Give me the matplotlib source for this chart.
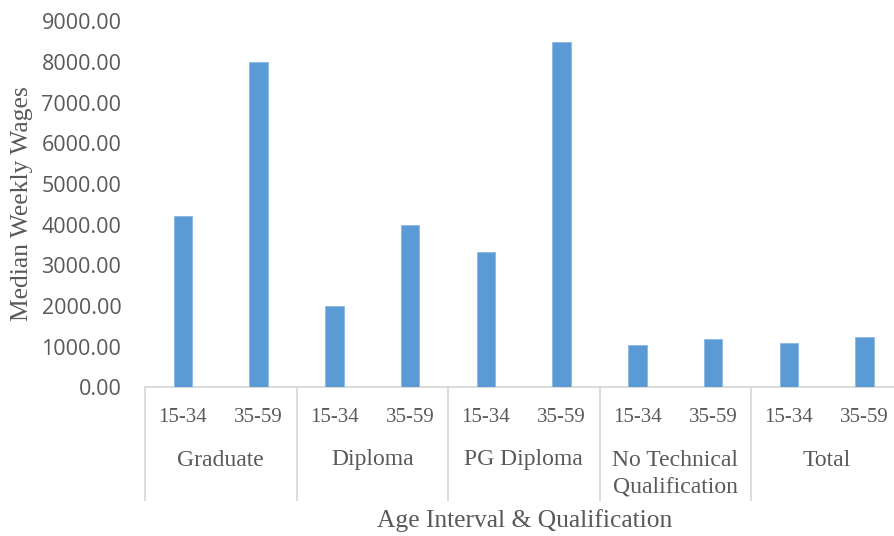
import matplotlib
matplotlib.use("Agg")
import matplotlib.pyplot as plt
import matplotlib.transforms as mtransforms

age_labels = ["15-34", "35-59", "15-34", "35-59", "15-34", "35-59", "15-34", "35-59", "15-34", "35-59"]
groups = ["Graduate", "Diploma", "PG Diploma", "No Technical\nQualification", "Total"]
wages = [4200, 8000, 2000, 4000, 3325, 8500, 1035, 1180, 1085, 1230]
yticks = [0, 1000, 2000, 3000, 4000, 5000, 6000, 7000, 8000, 9000]

W, H = 894, 536
fig = plt.figure(figsize=(W / 100, H / 100), dpi=100)
left_px, right_px = 145, 902.5
top_px, bot_px = 21.3, 387.3
ax = fig.add_axes([left_px / W, 1 - bot_px / H, (right_px - left_px) / W, (bot_px - top_px) / H])

x = list(range(len(wages)))
ax.bar(x, wages, width=0.243, color="#5B9BD5", edgecolor="#8DB8E2", linewidth=0.6, zorder=3)

ax.set_xlim(-0.5, len(wages) - 0.5)
ax.set_ylim(0, 9000)
ax.set_yticks(yticks)
ax.set_yticklabels([f"{v:.2f}" for v in yticks], fontfamily="Open Sans", fontsize=15.5, color="#595959")
ax.tick_params(axis="y", length=0, pad=17)

ax.set_xticks(x)
ax.set_xticklabels(age_labels, fontfamily="Liberation Serif", fontsize=15, color="#595959")
ax.tick_params(axis="x", length=0, pad=15)

for s in ["top", "right", "left"]:
    ax.spines[s].set_visible(False)
ax.spines["bottom"].set_color("#D9D9D9")
ax.spines["bottom"].set_linewidth(1.3)

trans = mtransforms.blended_transform_factory(ax.transData, ax.transAxes)
ax_h = bot_px - top_px
sep_bottom = -(500 - bot_px) / ax_h
n_groups = len(groups)
per = len(wages) // n_groups
for g in range(n_groups + 1):
    xs = g * per - 0.5
    ax.plot([xs, xs], [0, sep_bottom], transform=trans, color="#D9D9D9", lw=1.3, clip_on=False)

for g, name in enumerate(groups):
    xc = g * per + (per - 1) / 2
    for i, line in enumerate(name.split("\n")):
        ax.text(xc, -(460 + 27 * i - bot_px) / ax_h, line, transform=trans, ha="center", va="center",
                fontfamily="Liberation Serif", fontsize=17, color="#595959")

fig.text(525 / W, 1 - 521 / H, "Age Interval & Qualification", ha="center", va="center",
         fontfamily="Liberation Serif", fontsize=18.4, color="#595959")
fig.text(22 / W, 1 - 204 / H, "Median Weekly Wages", ha="center", va="center", rotation=90,
         fontfamily="Liberation Serif", fontsize=18.4, color="#595959")

fig.savefig("out.png", dpi=100)
